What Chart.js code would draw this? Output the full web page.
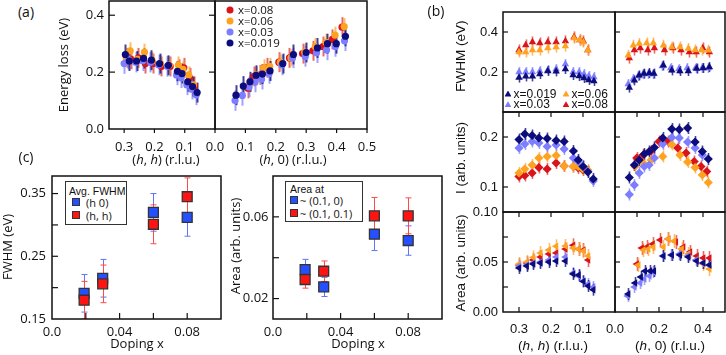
<!DOCTYPE html>
<html>
<head>
<meta charset="utf-8">
<script src="https://cdn.jsdelivr.net/npm/chart.js@4.4.1/dist/chart.umd.min.js"></script>
<style>
  html, body { margin:0; padding:0; background:#fff; }
  #fig { position:relative; width:726px; height:355px; overflow:hidden; }
  .box { position:absolute; }
  .t { position:absolute; white-space:nowrap; transform:translate(-50%,-50%); color:#111; line-height:1; }
  .rot { transform:translate(-50%,-50%) rotate(-90deg); }
  .os { font-family:'Open Sans', sans-serif; font-size:13px; }
  .ls { font-family:'Liberation Sans', Arial, sans-serif; font-size:13.5px; }
  .tl { position:absolute; white-space:nowrap; transform:translateY(-50%); line-height:1; color:#111; }
  .dot { position:absolute; width:7px; height:7px; border-radius:50%; transform:translate(-50%,-50%); }
  .tri { position:absolute; width:7px; height:6px; transform:translate(-50%,-50%); clip-path:polygon(50% 0,100% 100%,0 100%); }
  .sq { position:absolute; width:6px; height:6px; border:1px solid #333; transform:translate(-50%,-50%); }
  .lgbox { position:absolute; border:1.3px solid #333; background:#fff; }
</style>
</head>
<body>
<div id="fig"></div>
<script>
const NAVY = '#0c0c7c', LBLUE = '#7d7dff', ORANGE = '#ffa21f', RED = '#d9141a';
const FONT_A = "'Open Sans', sans-serif";
const FONT_B = "'Liberation Sans', Arial, sans-serif";

// ---- (a) energy loss, (h,h) branch
const A_HH_X019 = [0.296,0.283,0.259,0.236,0.21,0.183,0.154,0.124,0.109,0.09,0.074,0.059];
const A_HH_Y019 = [0.262,0.239,0.239,0.248,0.242,0.230,0.224,0.203,0.195,0.166,0.149,0.128];
const A_HH_X03  = [0.30,0.286,0.262,0.239,0.213,0.186,0.157,0.127,0.112,0.093,0.077,0.062];
const A_HH_Y03  = [0.23,0.245,0.235,0.24,0.235,0.225,0.22,0.19,0.18,0.155,0.14,0.12];
const A_HH_X06  = [0.293,0.28,0.256,0.233,0.207,0.18,0.151,0.121,0.106,0.087,0.071];
const A_HH_Y06  = [0.25,0.275,0.245,0.27,0.24,0.23,0.225,0.225,0.21,0.19,0.155];
const A_HH_X08  = [0.29,0.277,0.253,0.23,0.204,0.177,0.148,0.118,0.103,0.084,0.068];
const A_HH_Y08  = [0.25,0.245,0.25,0.23,0.23,0.22,0.22,0.21,0.215,0.18,0.15];
// ---- (a) energy loss, (h,0) branch
const A_H0_X019 = [0.069,0.093,0.115,0.135,0.156,0.181,0.223,0.258,0.30,0.337,0.37,0.399,0.429];
const A_H0_Y019 = [0.119,0.151,0.166,0.189,0.193,0.204,0.23,0.262,0.269,0.285,0.30,0.30,0.326];
const A_H0_X03  = [0.066,0.09,0.112,0.132,0.153,0.178,0.22,0.255,0.297,0.334,0.367,0.396,0.426];
const A_H0_Y03  = [0.10,0.118,0.148,0.165,0.175,0.195,0.225,0.25,0.255,0.268,0.278,0.29,0.31];
const A_H0_X06  = [0.115,0.135,0.16,0.18,0.215,0.25,0.295,0.33,0.365,0.395,0.425];
const A_H0_Y06  = [0.16,0.19,0.215,0.22,0.235,0.25,0.27,0.29,0.305,0.33,0.36];
const A_H0_X08  = [0.108,0.128,0.148,0.17,0.21,0.245,0.288,0.322,0.355,0.386,0.418];
const A_H0_Y08  = [0.143,0.185,0.19,0.215,0.235,0.25,0.265,0.275,0.29,0.315,0.358];
const A_ERR = [0.035, 0.036, 0.03, 0.035];   // x=0.019, 0.03, 0.06, 0.08

// ---- (b) FWHM
const B_FW_HH_X019 = [0.30,0.279,0.258,0.235,0.21,0.184,0.155,0.131,0.112,0.097,0.082,0.066];
const B_FW_HH_Y019 = [0.172,0.178,0.178,0.19,0.205,0.203,0.215,0.185,0.18,0.17,0.16,0.155];
const B_FW_HH_Y03  = [0.20,0.20,0.20,0.205,0.21,0.215,0.24,0.20,0.20,0.19,0.18,0.175];
const B_FW_HH_X06  = [0.30,0.279,0.258,0.235,0.21,0.184,0.155,0.128,0.11,0.099,0.085];
const B_FW_HH_Y06  = [0.30,0.30,0.31,0.31,0.32,0.325,0.33,0.37,0.36,0.35,0.31];
const B_FW_HH_Y08  = [0.31,0.335,0.35,0.345,0.35,0.35,0.355,0.375,0.36,0.355,0.31];
const B_FW_H0_X019 = [0.065,0.088,0.11,0.132,0.156,0.177,0.22,0.258,0.295,0.333,0.371,0.401,0.429];
const B_FW_H0_Y019 = [0.122,0.158,0.183,0.192,0.195,0.192,0.233,0.208,0.205,0.205,0.217,0.22,0.225];
const B_FW_H0_X03  = [0.06,0.083,0.105,0.127,0.151,0.172,0.215,0.253,0.29,0.328,0.366,0.396,0.424];
const B_FW_H0_Y03  = [0.14,0.165,0.18,0.19,0.19,0.19,0.23,0.22,0.215,0.22,0.22,0.22,0.22];
const B_FW_H0_X06  = [0.06,0.083,0.11,0.144,0.174,0.22,0.258,0.295,0.333,0.364,0.394,0.424];
const B_FW_H0_Y06  = [0.283,0.333,0.342,0.345,0.345,0.333,0.325,0.325,0.317,0.31,0.31,0.308];
const B_FW_H0_X08  = [0.065,0.088,0.115,0.149,0.179,0.225,0.263,0.30,0.338,0.369,0.399,0.429];
const B_FW_H0_Y08  = [0.27,0.31,0.32,0.31,0.32,0.31,0.32,0.31,0.30,0.30,0.32,0.30];
// ---- (b) intensity I
const B_I_HH_X019 = [0.30,0.282,0.259,0.238,0.212,0.184,0.159,0.130,0.115,0.10,0.085,0.068];
const B_I_HH_Y019 = [0.195,0.206,0.203,0.198,0.197,0.193,0.191,0.172,0.154,0.141,0.13,0.116];
const B_I_HH_Y03  = [0.178,0.186,0.191,0.188,0.181,0.184,0.176,0.158,0.151,0.141,0.131,0.112];
const B_I_HH_X06  = [0.30,0.282,0.259,0.238,0.212,0.184,0.159,0.130,0.115,0.10,0.085];
const B_I_HH_Y06  = [0.128,0.136,0.144,0.158,0.161,0.163,0.142,0.141,0.141,0.136,0.134];
const B_I_HH_X08  = [0.30,0.282,0.259,0.238,0.212,0.184,0.159,0.130,0.115,0.10];
const B_I_HH_Y08  = [0.121,0.123,0.128,0.139,0.136,0.148,0.142,0.141,0.138,0.134];
const B_I_H0_X019 = [0.065,0.088,0.11,0.133,0.155,0.179,0.217,0.258,0.292,0.33,0.364,0.397,0.424];
const B_I_H0_Y019 = [0.119,0.144,0.154,0.166,0.171,0.179,0.198,0.216,0.215,0.218,0.19,0.171,0.156];
const B_I_H0_X03  = [0.065,0.088,0.11,0.133,0.155,0.179,0.217,0.258,0.292,0.33,0.364,0.397];
const B_I_H0_Y03  = [0.085,0.104,0.128,0.141,0.144,0.158,0.186,0.199,0.198,0.19,0.178,0.164];
const B_I_H0_X06  = [0.091,0.129,0.164,0.217,0.258,0.295,0.33,0.364,0.397,0.424];
const B_I_H0_Y06  = [0.141,0.148,0.154,0.161,0.185,0.164,0.15,0.139,0.124,0.109];
const B_I_H0_X08  = [0.099,0.129,0.164,0.2,0.242,0.285,0.323,0.36,0.391,0.417];
const B_I_H0_Y08  = [0.158,0.164,0.172,0.191,0.191,0.178,0.168,0.151,0.141,0.131];
// ---- (b) area
const B_AR_HH_X    = [0.30,0.276,0.256,0.233,0.207,0.184,0.155,0.131,0.114,0.099,0.084,0.068];
const B_AR_HH_Y019 = [0.044,0.046,0.048,0.049,0.05,0.051,0.051,0.038,0.037,0.0306,0.026,0.0223];
const B_AR_HH_Y03  = [0.046,0.047,0.049,0.05,0.052,0.055,0.055,0.039,0.036,0.031,0.028,0.025];
const B_AR_HH_Y06  = [0.048,0.05,0.0546,0.059,0.062,0.0657,0.066,0.064,0.063,0.061,0.056];
const B_AR_HH_Y08  = [0.047,0.049,0.052,0.055,0.058,0.059,0.063,0.0667,0.063,0.062,0.052];
const B_AR_H0_X019 = [0.06,0.091,0.117,0.136,0.159,0.177,0.22,0.258,0.295,0.333,0.371,0.401,0.429];
const B_AR_H0_Y019 = [0.018,0.029,0.035,0.041,0.041,0.041,0.056,0.057,0.057,0.055,0.051,0.049,0.047];
const B_AR_H0_X03  = [0.057,0.088,0.114,0.133,0.156,0.174,0.217,0.255,0.292,0.33,0.368,0.398,0.426];
const B_AR_H0_Y03  = [0.016,0.025,0.029,0.033,0.036,0.04,0.056,0.057,0.058,0.056,0.052,0.049,0.047];
const B_AR_H0_X06  = [0.106,0.129,0.151,0.174,0.22,0.242,0.268,0.303,0.333,0.371,0.401,0.429];
const B_AR_H0_Y06  = [0.047,0.062,0.063,0.065,0.065,0.073,0.071,0.063,0.058,0.052,0.048,0.043];
const B_AR_H0_X08  = [0.099,0.121,0.144,0.171,0.205,0.242,0.277,0.31,0.341,0.371,0.401,0.429];
const B_AR_H0_Y08  = [0.048,0.064,0.065,0.068,0.072,0.073,0.07,0.065,0.06,0.056,0.054,0.054];
const B_FW_ERR = [0.025, 0.025, 0.028, 0.028];
const B_I_ERR  = [0.012, 0.012, 0.012, 0.012];
const B_AR_ERR = [0.006, 0.006, 0.007, 0.007];

// ---- (c) doping dependence
const DOPING = [0.019, 0.03, 0.06, 0.08];
const C_FW_H0 = [0.191, 0.215, 0.32, 0.312];
const C_FW_H0_ERR = [0.03, 0.03, 0.03, 0.03];
const C_FW_HH = [0.18, 0.206, 0.301, 0.345];
const C_FW_HH_ERR = [0.03, 0.03, 0.031, 0.03];
const C_AR_H0 = [0.0342, 0.0257, 0.0515, 0.0484];
const C_AR_H0_ERR = [0.005, 0.0047, 0.008, 0.0072];
const C_AR_HH = [0.0293, 0.0334, 0.0605, 0.0605];
const C_AR_HH_ERR = [0.0042, 0.005, 0.009, 0.0088];

const fig = document.getElementById('fig');

// error bars, frame and tick marks
const framePlugin = {
  id: 'frame',
  beforeDatasetsDraw(chart) {
    const {ctx, chartArea: a, scales: {x, y}} = chart;
    ctx.save();
    ctx.beginPath(); ctx.rect(a.left, a.top, a.width, a.height); ctx.clip();
    chart.data.datasets.slice().reverse().forEach(ds => {
      if (!ds.err) return;
      ctx.strokeStyle = ds.errColor; ctx.lineWidth = ds.errWidth;
      ds.data.forEach((p, i) => {
        const e = Array.isArray(ds.err) ? ds.err[i] : ds.err;
        const px = Math.round(x.getPixelForValue(p.x)) + 0.5;
        const y1 = y.getPixelForValue(p.y - e), y2 = y.getPixelForValue(p.y + e);
        ctx.beginPath(); ctx.moveTo(px, y1); ctx.lineTo(px, y2);
        if (ds.cap) {
          ctx.moveTo(px - ds.cap, y1); ctx.lineTo(px + ds.cap, y1);
          ctx.moveTo(px - ds.cap, y2); ctx.lineTo(px + ds.cap, y2);
        }
        ctx.stroke();
      });
    });
    ctx.restore();
  },
  afterDraw(chart, args, opts) {
    const {ctx, chartArea: a, scales: {x, y}} = chart;
    ctx.save();
    ctx.strokeStyle = '#111'; ctx.lineWidth = 1.5;
    ctx.strokeRect(a.left, a.top, a.width, a.height);
    ctx.lineWidth = 1.2;
    (opts.marks || []).forEach(([side, len, vals]) => {
      vals.forEach(v => {
        ctx.beginPath();
        if (side === 'left' || side === 'right') {
          const py = y.getPixelForValue(v);
          const x0 = side === 'left' ? a.left : a.right;
          const d = side === 'left' ? len : -len;
          ctx.moveTo(x0, py); ctx.lineTo(x0 + d, py);
        } else {
          const px = x.getPixelForValue(v);
          const y0 = side === 'bottom' ? a.bottom : a.top;
          const d = side === 'bottom' ? -len : len;
          ctx.moveTo(px, y0); ctx.lineTo(px, y0 + d);
        }
        ctx.stroke();
      });
    });
    ctx.restore();
  }
};

function panel(p) {
  const M = {l: 50, r: 22, t: 14, b: 36};
  const w = p.x1 - p.x0, h = p.y1 - p.y0;
  const box = document.createElement('div');
  box.className = 'box';
  box.style.left = (p.x0 - M.l) + 'px';
  box.style.top = (p.y0 - M.t) + 'px';
  const cv = document.createElement('canvas');
  cv.width = w + M.l + M.r; cv.height = h + M.t + M.b;
  box.appendChild(cv); fig.appendChild(box);
  const font = {family: p.font, size: 13};
  const axis = (rng, rev, tk, pad, fit) => ({
    type: 'linear', min: rng[0], max: rng[1], reverse: !!rev,
    grid: {display: false, drawTicks: false}, border: {display: false},
    ticks: {display: !!tk, font, color: '#111', padding: pad, maxRotation: 0, autoSkip: false,
            callback: (v, i) => tk ? tk[1][i] : ''},
    afterBuildTicks: s => { s.ticks = (tk ? tk[0] : rng).map(v => ({value: v})); },
    afterFit: fit
  });
  new Chart(cv, {
    type: 'scatter',
    data: {datasets: p.datasets},
    options: {
      responsive: false, animation: false, events: [],
      layout: {padding: {left: 0, right: M.r, top: M.t, bottom: 0}},
      plugins: {legend: {display: false}, tooltip: {enabled: false}, frame: {marks: p.marks}},
      scales: {
        x: axis(p.xr, p.xrev, p.xt, p.xpad, s => { s.height = M.b; }),
        y: axis(p.yr, false, p.yt, p.ypad, s => { s.width = M.l; })
      }
    },
    plugins: [framePlugin]
  });
}

const pts = (xs, ys) => xs.map((v, i) => ({x: v, y: ys[i]}));
function ser(xs, ys, color, errColor, err, style) {
  return Object.assign({
    data: pts(xs, ys), pointBackgroundColor: color, pointBorderWidth: 0,
    err, errColor, errWidth: 2
  }, style);
}
const EC = ['rgba(20,20,130,0.8)', 'rgba(130,130,255,0.75)', 'rgba(255,165,50,0.75)', 'rgba(225,40,40,0.7)'];

// ---- (a)
const circ = {pointStyle: 'circle', pointRadius: 3.6};
panel({x0: 109, x1: 215, y0: 1, y1: 129, font: FONT_A, xr: [0, 0.35], xrev: true, yr: [0, 0.45],
  xt: [[0.3, 0.2, 0.1], ['0.3', '0.2', '0.1']], xpad: 10,
  yt: [[0, 0.2, 0.4], ['0.0', '0.2', '0.4']], ypad: 5,
  marks: [['left', 6, [0.2, 0.4]], ['right', 6, [0.2, 0.4]], ['bottom', -4, [0.3, 0.2, 0.1]]],
  datasets: [
    ser(A_HH_X019, A_HH_Y019, NAVY, EC[0], A_ERR[0], circ),
    ser(A_HH_X03, A_HH_Y03, LBLUE, EC[1], A_ERR[1], circ),
    ser(A_HH_X06, A_HH_Y06, ORANGE, EC[2], A_ERR[2], circ),
    ser(A_HH_X08, A_HH_Y08, RED, EC[3], A_ERR[3], circ)
  ]});
panel({x0: 215, x1: 367, y0: 1, y1: 129, font: FONT_A, xr: [0, 0.5], yr: [0, 0.45],
  xt: [[0, 0.1, 0.2, 0.3, 0.4, 0.5], ['0.0', '0.1', '0.2', '0.3', '0.4', '0.5']], xpad: 10,
  marks: [['bottom', -4, [0, 0.1, 0.2, 0.3, 0.4, 0.5]]],
  datasets: [
    ser(A_H0_X019, A_H0_Y019, NAVY, EC[0], A_ERR[0], circ),
    ser(A_H0_X03, A_H0_Y03, LBLUE, EC[1], A_ERR[1], circ),
    ser(A_H0_X06, A_H0_Y06, ORANGE, EC[2], A_ERR[2], circ),
    ser(A_H0_X08, A_H0_Y08, RED, EC[3], A_ERR[3], circ)
  ]});

// ---- (b)
const triUp = {pointStyle: 'triangle', pointRadius: 4.3, errWidth: 1.6};
const diam = {pointStyle: 'rectRot', pointRadius: 4.6, errWidth: 1.6};
const triL = {pointStyle: 'triangle', pointRadius: 4.3, pointRotation: -90, errWidth: 1.6};
const BL = {x0: 503, x1: 615, xr: [0, 0.35], xrev: true};
const BR = {x0: 615, x1: 725, xr: [0, 0.5]};
const rows = [[12, 112], [112, 212], [212, 312]];
const HH_MARK = [0.3, 0.2, 0.1], H0_MARK = [0.1, 0.2, 0.3, 0.4];

panel(Object.assign({}, BL, {y0: rows[0][0], y1: rows[0][1], font: FONT_B, yr: [0, 0.5],
  yt: [[0.2, 0.4], ['0.2', '0.4']], ypad: 5,
  marks: [['left', 5, [0.2, 0.4]]],
  datasets: [
    ser(B_FW_HH_X019, B_FW_HH_Y019, NAVY, EC[0], B_FW_ERR[0], triUp),
    ser(B_FW_HH_X019, B_FW_HH_Y03, LBLUE, EC[1], B_FW_ERR[1], triUp),
    ser(B_FW_HH_X06, B_FW_HH_Y06, ORANGE, EC[2], B_FW_ERR[2], triUp),
    ser(B_FW_HH_X06, B_FW_HH_Y08, RED, EC[3], B_FW_ERR[3], triUp)
  ]}));
panel(Object.assign({}, BR, {y0: rows[0][0], y1: rows[0][1], font: FONT_B, yr: [0, 0.5],
  marks: [['left', 5, [0.2, 0.4]]],
  datasets: [
    ser(B_FW_H0_X019, B_FW_H0_Y019, NAVY, EC[0], B_FW_ERR[0], triUp),
    ser(B_FW_H0_X03, B_FW_H0_Y03, LBLUE, EC[1], B_FW_ERR[1], triUp),
    ser(B_FW_H0_X06, B_FW_H0_Y06, ORANGE, EC[2], B_FW_ERR[2], triUp),
    ser(B_FW_H0_X08, B_FW_H0_Y08, RED, EC[3], B_FW_ERR[3], triUp)
  ]}));
panel(Object.assign({}, BL, {y0: rows[1][0], y1: rows[1][1], font: FONT_B, yr: [0.05, 0.25],
  yt: [[0.1, 0.2], ['0.1', '0.2']], ypad: 5,
  marks: [['left', 5, [0.1, 0.2]], ['top', 5, HH_MARK]],
  datasets: [
    ser(B_I_HH_X019, B_I_HH_Y019, NAVY, EC[0], B_I_ERR[0], diam),
    ser(B_I_HH_X019, B_I_HH_Y03, LBLUE, EC[1], B_I_ERR[1], diam),
    ser(B_I_HH_X06, B_I_HH_Y06, ORANGE, EC[2], B_I_ERR[2], diam),
    ser(B_I_HH_X08, B_I_HH_Y08, RED, EC[3], B_I_ERR[3], diam)
  ]}));
panel(Object.assign({}, BR, {y0: rows[1][0], y1: rows[1][1], font: FONT_B, yr: [0.05, 0.25],
  marks: [['left', 5, [0.1, 0.2]], ['top', 5, H0_MARK]],
  datasets: [
    ser(B_I_H0_X019, B_I_H0_Y019, NAVY, EC[0], B_I_ERR[0], diam),
    ser(B_I_H0_X03, B_I_H0_Y03, LBLUE, EC[1], B_I_ERR[1], diam),
    ser(B_I_H0_X06, B_I_H0_Y06, ORANGE, EC[2], B_I_ERR[2], diam),
    ser(B_I_H0_X08, B_I_H0_Y08, RED, EC[3], B_I_ERR[3], diam)
  ]}));
panel(Object.assign({}, BL, {y0: rows[2][0], y1: rows[2][1], font: FONT_B, yr: [0, 0.1],
  xt: [[0.3, 0.2, 0.1], ['0.3', '0.2', '0.1']], xpad: 9.5,
  yt: [[0, 0.05, 0.1], ['0.00', '0.05', '0.10']], ypad: 5,
  marks: [['left', 5, [0.025, 0.05, 0.075]], ['top', 5, HH_MARK], ['bottom', 5, HH_MARK]],
  datasets: [
    ser(B_AR_HH_X, B_AR_HH_Y019, NAVY, EC[0], B_AR_ERR[0], triL),
    ser(B_AR_HH_X, B_AR_HH_Y03, LBLUE, EC[1], B_AR_ERR[1], triL),
    ser(B_AR_HH_X.slice(0, 11), B_AR_HH_Y06, ORANGE, EC[2], B_AR_ERR[2], triL),
    ser(B_AR_HH_X.slice(0, 11), B_AR_HH_Y08, RED, EC[3], B_AR_ERR[3], triL)
  ]}));
panel(Object.assign({}, BR, {y0: rows[2][0], y1: rows[2][1], font: FONT_B, yr: [0, 0.1],
  xt: [[0, 0.2, 0.4], ['0.0', '0.2', '0.4']], xpad: 9.5,
  marks: [['left', 5, [0.025, 0.05, 0.075]], ['top', 5, H0_MARK], ['bottom', 5, H0_MARK]],
  datasets: [
    ser(B_AR_H0_X019, B_AR_H0_Y019, NAVY, EC[0], B_AR_ERR[0], triL),
    ser(B_AR_H0_X03, B_AR_H0_Y03, LBLUE, EC[1], B_AR_ERR[1], triL),
    ser(B_AR_H0_X06, B_AR_H0_Y06, ORANGE, EC[2], B_AR_ERR[2], triL),
    ser(B_AR_H0_X08, B_AR_H0_Y08, RED, EC[3], B_AR_ERR[3], triL)
  ]}));

// ---- (c)
const sqr = c => ({pointStyle: 'rect', pointRadius: 7, pointBorderWidth: 1.3, pointBorderColor: '#333',
                   pointBackgroundColor: c, errWidth: 1, cap: 3});
const C_BLUE = '#2450ff', C_RED = '#ff1414';
const XT_C = [[0, 0.04, 0.08], ['0.0', '0.04', '0.08']];
panel({x0: 52, x1: 221, y0: 176, y1: 319, font: FONT_A, xr: [0, 0.1], yr: [0.15, 0.378],
  xt: XT_C, xpad: 5, yt: [[0.15, 0.25, 0.35], ['0.15', '0.25', '0.35']], ypad: 6,
  marks: [['left', 6, [0.2, 0.25, 0.3, 0.35]], ['bottom', 6, [0.02, 0.04, 0.06, 0.08]]],
  datasets: [
    Object.assign({data: pts(DOPING, C_FW_HH), err: C_FW_HH_ERR, errColor: '#ff4a4a'}, sqr(C_RED)),
    Object.assign({data: pts(DOPING, C_FW_H0), err: C_FW_H0_ERR, errColor: '#5f74ff'}, sqr(C_BLUE))
  ]});
panel({x0: 273, x1: 442, y0: 176, y1: 319, font: FONT_A, xr: [0, 0.1], yr: [0.01, 0.08],
  xt: XT_C, xpad: 5, yt: [[0.02, 0.06], ['0.02', '0.06']], ypad: 4.5,
  marks: [['left', 6, [0.02, 0.04, 0.06]], ['bottom', 6, [0.02, 0.04, 0.06, 0.08]]],
  datasets: [
    Object.assign({data: pts(DOPING, C_AR_HH), err: C_AR_HH_ERR, errColor: '#ff4a4a'}, sqr(C_RED)),
    Object.assign({data: pts(DOPING, C_AR_H0), err: C_AR_H0_ERR, errColor: '#5f74ff'}, sqr(C_BLUE))
  ]});

// ---- text: titles, letters, legends
function txt(html, x, y, cls, extra) {
  const d = document.createElement('div');
  d.className = 't ' + cls; d.innerHTML = html;
  d.style.left = x + 'px'; d.style.top = y + 'px';
  if (extra) Object.assign(d.style, extra);
  fig.appendChild(d); return d;
}
function el(cls, x, y, style, html) {
  const d = document.createElement('div');
  d.className = cls; d.style.left = x + 'px'; d.style.top = y + 'px';
  if (style) Object.assign(d.style, style);
  if (html) d.innerHTML = html;
  fig.appendChild(d); return d;
}
const HH = '(<i>h</i>, <i>h</i>) (r.l.u.)', H0 = '(<i>h</i>, 0) (r.l.u.)';

txt('(a)', 26, 12, 'os', {fontSize: '14px'});
txt('(b)', 436, 11, 'os', {fontSize: '14px'});
txt('(c)', 26, 157, 'os', {fontSize: '14px'});
txt('Energy loss (eV)', 63, 65, 'os rot');
txt(HH, 166, 159, 'os');
txt(H0, 293, 159, 'os');
txt('FWHM (eV)', 7, 247, 'os rot');
txt('Area (arb. units)', 235, 246, 'os rot');
txt('Doping x', 137, 343, 'os');
txt('Doping x', 358, 343, 'os');
txt('FWHM (eV)', 461, 56, 'ls rot');
txt('I (arb. units)', 461, 158, 'ls rot');
txt('Area (arb. units)', 461, 263, 'ls rot');
txt(HH, 553, 346, 'ls');
txt(H0, 670, 346, 'ls');

// legend (a)
const A_LEG = ['x=0.08', 'x=0.06', 'x=0.03', 'x=0.019'];
[RED, ORANGE, LBLUE, NAVY].forEach((c, i) => {
  const yy = 9.5 + i * 11.1;
  el('dot', 229.5, yy, {background: c});
  el('tl', 238, yy, {fontFamily: FONT_A, fontSize: '11.5px'}, A_LEG[i]);
});
// legend (b)
[[NAVY, 'x=0.019', 508, 93.5], [ORANGE, 'x=0.06', 566, 93.5],
 [LBLUE, 'x=0.03', 508, 104.3], [RED, 'x=0.08', 566, 104.3]].forEach(([c, s, xx, yy]) => {
  el('tri', xx, yy, {background: c});
  el('tl', xx + 5.5, yy, {fontFamily: FONT_B, fontSize: '12px'}, s);
});
// legends (c)
el('lgbox', 65, 181, {width: '60px', height: '42px'});
el('tl', 69, 190.5, {fontFamily: FONT_B, fontSize: '10.5px'}, 'Avg. FWHM');
el('sq', 76, 201.5, {background: C_BLUE});
el('tl', 86, 201.5, {fontFamily: FONT_A, fontSize: '11px'}, '(h 0)');
el('sq', 76, 215, {background: C_RED});
el('tl', 86, 215, {fontFamily: FONT_A, fontSize: '11px'}, '(h, h)');

el('lgbox', 285, 181, {width: '76px', height: '39px'});
el('tl', 290, 188.5, {fontFamily: FONT_B, fontSize: '10.5px'}, 'Area at');
el('sq', 293.5, 199.5, {background: C_BLUE});
el('tl', 300, 199.5, {fontFamily: FONT_A, fontSize: '11px'}, '~ (0.1, 0)');
el('sq', 293.5, 212.5, {background: C_RED});
el('tl', 300, 212.5, {fontFamily: FONT_A, fontSize: '11px'}, '~ (0.1, 0.1)');
</script>
</body>
</html>
